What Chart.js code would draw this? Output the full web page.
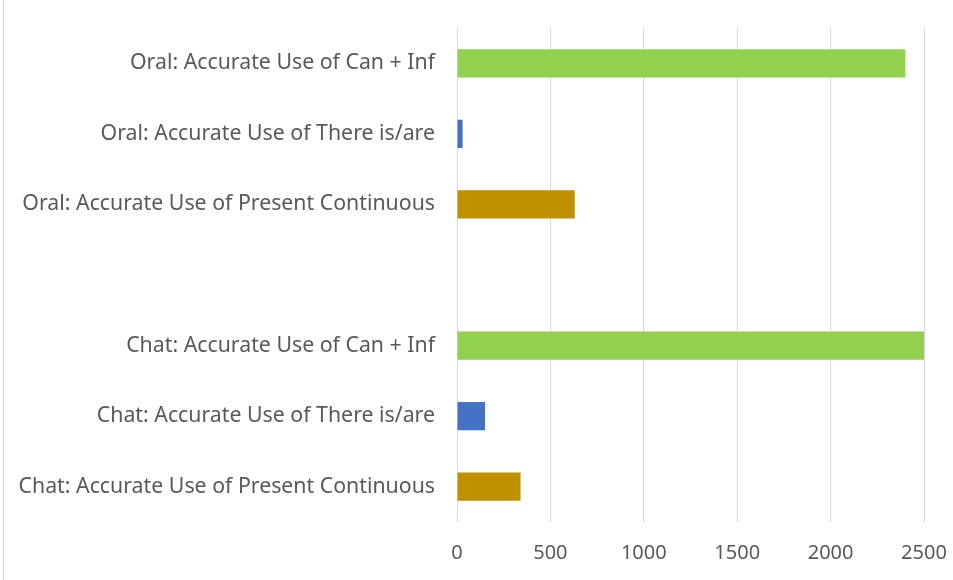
<!DOCTYPE html>
<html>
<head>
<meta charset="utf-8">
<script src="https://cdn.jsdelivr.net/npm/chart.js@4"></script>
<style>
    body { margin: 0; background: #fff; }
    .wrap { position: relative; width: 953px; height: 580px; }
    .frame { position: absolute; left: 3px; top: 0; width: 1px; height: 580px; background: #d9d9d9; }
    canvas { position: absolute; left: 0; top: 0; }
</style>
</head>
<body>
<div class="wrap">
    <div class="frame"></div>
    <canvas id="chart" width="953" height="580"></canvas>
</div>
<script>
// du lieu doc tu hinh
const categories = [
    'Oral: Accurate Use of Can + Inf',
    'Oral: Accurate Use of There is/are',
    'Oral: Accurate Use of Present Continuous',
    '',
    'Chat: Accurate Use of Can + Inf',
    'Chat: Accurate Use of There is/are',
    'Chat: Accurate Use of Present Continuous'
];
const counts = [2400, 30, 630, null, 2500, 150, 340];
const barColors = ['#92d050', '#4472c4', '#bf9000', '#ffffff', '#92d050', '#4472c4', '#bf9000'];
const xTicks = [0, 500, 1000, 1500, 2000, 2500];

const ctx = document.getElementById('chart').getContext('2d');
new Chart(ctx, {
    type: 'bar',
    data: {
        labels: categories,
        datasets: [{
            data: counts,
            backgroundColor: barColors,
            borderWidth: 0,
            barPercentage: 0.4,
            categoryPercentage: 1
        }]
    },
    options: {
        indexAxis: 'y',
        responsive: false,
        animation: false,
        layout: { padding: { left: 0, right: 29, top: 28, bottom: 0 } },
        plugins: { legend: { display: false }, tooltip: { enabled: false } },
        scales: {
            x: {
                min: 0,
                max: 2500,
                afterBuildTicks: (scale) => { scale.ticks = xTicks.map(v => ({ value: v })); },
                grid: { color: '#d9d9d9', lineWidth: 1, drawTicks: false },
                border: { display: false },
                ticks: {
                    color: '#595959',
                    font: { family: 'Noto Sans', size: 20 },
                    padding: 19,
                    callback: (v) => String(v)
                },
                afterFit: (scale) => {
                    scale.height = 58;
                    scale.paddingLeft = 0;
                    scale.paddingRight = 0;
                }
            },
            y: {
                grid: { display: false, drawTicks: false },
                border: { display: false },
                ticks: { color: '#595959', font: { family: 'Noto Sans', size: 21.3 }, padding: 22 },
                afterFit: (scale) => {
                    scale.width = 457;
                    scale.paddingTop = 0;
                    scale.paddingBottom = 0;
                }
            }
        }
    }
});
</script>
</body>
</html>
